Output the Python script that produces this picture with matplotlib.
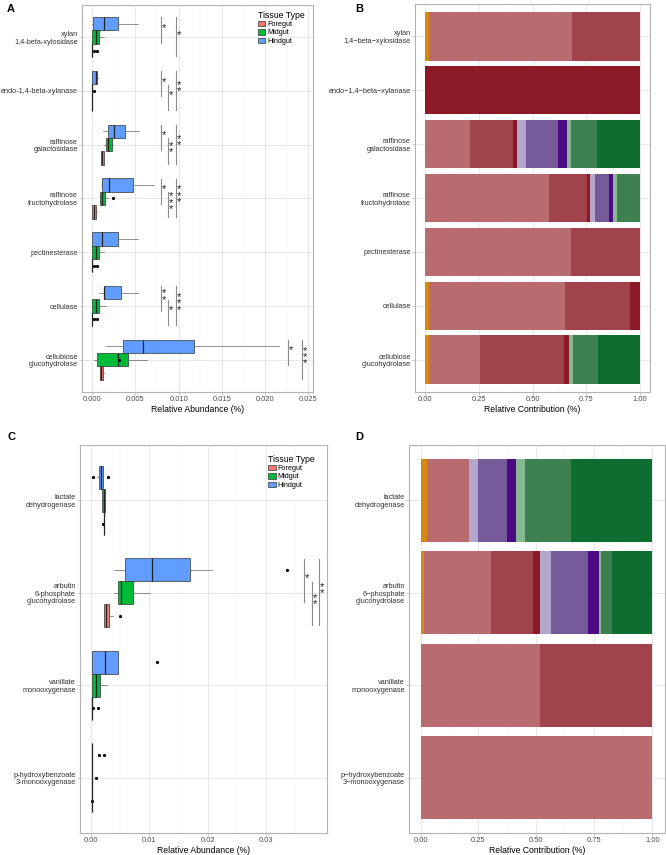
import matplotlib
matplotlib.use("Agg")
import matplotlib.pyplot as plt
from matplotlib.patches import Patch
import numpy as np

plt.rcParams["font.family"] = ["Liberation Sans", "DejaVu Sans"]

tissues = ["Hindgut", "Midgut", "Foregut"]
tissue_offsets = {"Hindgut": -0.25, "Midgut": 0.0, "Foregut": 0.25}
tissue_colors = {"Foregut": "#F8766D", "Midgut": "#00BA38", "Hindgut": "#619CFF"}

# ---- panel A: boxplot stats [whislo, q1, med, q3, whishi]
enzymes_a = ["xylan\n1,4-beta-xylosidase", "endo-1,4-beta-xylanase",
             "raffinose\ngalactosidase", "raffinose\nfructohydrolase",
             "pectinesterase", "cellulase", "cellubiose\nglucohydrolase"]
a_hind = [[0.0, 0.0001, 0.0013, 0.0030, 0.0053],
          [0.0, 0.0, 0.0004, 0.00054, 0.00066],
          [0.0012, 0.00185, 0.00247, 0.00374, 0.00544],
          [0.00096, 0.00116, 0.00193, 0.00467, 0.00714],
          [0.0, 0.0, 0.00108, 0.00293, 0.00532],
          [0.00073, 0.00131, 0.00139, 0.00328, 0.00532],
          [0.00158, 0.00359, 0.0059, 0.01173, 0.02157]]
a_mid = [[0.0, 0.0, 0.00042, 0.00077, 0.0013],
         [0.0, 0.0, 0.0, 0.0, 0.0],
         [0.0013, 0.00154, 0.00185, 0.00228, 0.0024],
         [0.0009, 0.00093, 0.00112, 0.0015, 0.00185],
         [0.0, 0.0, 0.0004, 0.00077, 0.00135],
         [0.0, 0.0, 0.00042, 0.00077, 0.0016],
         [0.0002, 0.00054, 0.0030, 0.00417, 0.00633]]
a_fore = [[0.0, 0.0, 0.0, 0.0, 0.0],
          [0.0, 0.0, 0.0, 0.0, 0.0],
          [0.00096, 0.00096, 0.0011, 0.0013, 0.00135],
          [0.0, 0.0, 0.0002, 0.0004, 0.0006],
          [0.0, 0.0, 0.0, 0.0, 0.0],
          [0.0, 0.0, 0.0, 0.0, 0.0],
          [0.00089, 0.00089, 0.00104, 0.0012, 0.0014]]
a_hind_out = [[], [], [], [], [], [], []]
a_mid_out = [[], [0.00015], [], [0.0024], [], [], [0.0031]]
a_fore_out = [[0.00023, 0.0005], [], [], [], [0.00023, 0.0005], [0.00023, 0.0005], []]
# significance: (enzyme index, group 1, group 2, x position, label)
a_sig = [(0, "Hindgut", "Midgut", 0.0080, "*"), (0, "Hindgut", "Foregut", 0.0097, "*"),
         (1, "Hindgut", "Midgut", 0.0080, "*"), (1, "Midgut", "Foregut", 0.0088, "*"),
         (1, "Hindgut", "Foregut", 0.0097, "**"),
         (2, "Hindgut", "Midgut", 0.0080, "*"), (2, "Midgut", "Foregut", 0.0088, "**"),
         (2, "Hindgut", "Foregut", 0.0097, "**"),
         (3, "Hindgut", "Midgut", 0.0080, "*"), (3, "Midgut", "Foregut", 0.0088, "***"),
         (3, "Hindgut", "Foregut", 0.0097, "***"),
         (5, "Hindgut", "Midgut", 0.0080, "**"), (5, "Midgut", "Foregut", 0.0088, "*"),
         (5, "Hindgut", "Foregut", 0.0097, "***"),
         (6, "Hindgut", "Midgut", 0.0227, "*"), (6, "Hindgut", "Foregut", 0.0243, "***")]

# ---- panel C
enzymes_c = ["lactate\ndehydrogenase", "arbutin\n6-phosphate\nglucohydrolase",
             "vanillate\nmonooxygenase", "p-hydroxybenzoate\n3-monooxygenase"]
c_hind = [[0.0010, 0.00138, 0.0017, 0.00207, 0.0021],
          [0.00397, 0.00586, 0.01046, 0.01701, 0.02075],
          [0.0001, 0.0001, 0.00247, 0.00454, 0.0047],
          [0.0001, 0.0001, 0.0001, 0.0001, 0.0001]]
c_mid = [[0.0019, 0.0019, 0.00218, 0.00247, 0.00247],
         [0.00397, 0.00454, 0.00517, 0.00724, 0.01017],
         [0.0001, 0.0001, 0.0008, 0.00155, 0.0028],
         [0.0001, 0.0001, 0.0001, 0.0001, 0.0001]]
c_fore = [[0.00224, 0.00224, 0.00224, 0.00224, 0.00224],
          [0.0023, 0.0023, 0.0026, 0.00305, 0.00385],
          [0.0001, 0.0001, 0.0001, 0.0001, 0.0001],
          [0.0001, 0.0001, 0.0001, 0.0001, 0.0001]]
c_hind_out = [[0.0003, 0.0029], [0.0336], [0.01126], [0.0014, 0.0023]]
c_mid_out = [[], [], [], [0.0008]]
c_fore_out = [[0.0020], [0.0050], [0.0004, 0.00115], [0.0001]]
c_sig = [(1, "Hindgut", "Midgut", 0.0366, "*"), (1, "Midgut", "Foregut", 0.0379, "**"),
         (1, "Hindgut", "Foregut", 0.0392, "**")]

# ---- panels B and D: relative contribution per taxon
taxon_colors = ["#D68910", "#B86C70", "#A0434A", "#8B1A26", "#B4A7CC",
                "#745A99", "#4B0A82", "#86B892", "#3E8050", "#0E6E30"]
enzymes_b = ["xylan\n1,4\u2212beta\u2212xylosidase", "endo\u22121,4\u2212beta\u2212xylanase",
             "raffinose\ngalactosidase", "raffinose\nfructohydrolase",
             "pectinesterase", "cellulase", "cellubiose\nglucohydrolase"]
b_shares = [[0.016, 0.667, 0.317, 0, 0, 0, 0, 0, 0, 0],
            [0, 0, 0, 1.0, 0, 0, 0, 0, 0, 0],
            [0, 0.21, 0.20, 0.016, 0.045, 0.148, 0.043, 0.019, 0.118, 0.201],
            [0, 0.576, 0.179, 0.012, 0.025, 0.065, 0.017, 0.020, 0.106, 0],
            [0, 0.68, 0.32, 0, 0, 0, 0, 0, 0, 0],
            [0.017, 0.634, 0.301, 0.048, 0, 0, 0, 0, 0, 0],
            [0.016, 0.238, 0.391, 0.023, 0, 0, 0, 0.020, 0.115, 0.197]]
enzymes_d = ["lactate\ndehydrogenase", "arbutin\n6\u2212phosphate\nglucohydrolase",
             "vanillate\nmonooxygenase", "p\u2212hydroxybenzoate\n3\u2212monooxygenase"]
d_shares = [[0.026, 0.182, 0, 0, 0.040, 0.126, 0.037, 0.040, 0.198, 0.351],
            [0.016, 0.289, 0.181, 0.029, 0.047, 0.161, 0.045, 0.010, 0.047, 0.175],
            [0, 0.517, 0.483, 0, 0, 0, 0, 0, 0, 0],
            [0, 1.0, 0, 0, 0, 0, 0, 0, 0, 0]]

TICK_FS = 5.3
TITLE_FS = 6.2


def style_axis(ax, xlim, xticks, fmt, minor, ncat, labels, xlabel):
    ax.set_xlim(*xlim)
    ax.set_ylim(ncat - 0.4, -0.6)
    ax.set_xticks(xticks)
    ax.set_xticklabels([fmt % v for v in xticks], fontsize=5.4, color="#4D4D4D")
    ax.set_xticks(minor, minor=True)
    ax.set_yticks(np.arange(ncat))
    ax.set_yticklabels(labels, fontsize=TICK_FS, color="#333333", linespacing=1.1)
    ax.tick_params(axis="both", which="major", length=2, width=0.5, color="#B3B3B3", pad=1.0)
    ax.tick_params(axis="x", which="minor", length=0)
    ax.grid(True, which="major", color="#DEDEDE", lw=0.5)
    ax.grid(True, which="minor", axis="x", color="#EDEDED", lw=0.3)
    ax.set_axisbelow(True)
    for s in ax.spines.values():
        s.set_color("#B3B3B3")
        s.set_linewidth(0.8)
    ax.set_xlabel(xlabel, fontsize=TITLE_FS, labelpad=1.5)


def draw_boxes(ax, series, outliers):
    for t in tissues:
        stats = []
        for s, fl in zip(series[t], outliers[t]):
            stats.append(dict(whislo=s[0], q1=s[1], med=s[2], q3=s[3], whishi=s[4], fliers=fl))
        pos = np.arange(len(stats)) + tissue_offsets[t]
        ax.bxp(stats, positions=pos, widths=0.25, orientation="horizontal",
               patch_artist=True, showcaps=False, manage_ticks=False,
               boxprops=dict(facecolor=tissue_colors[t], edgecolor="#333333", lw=0.5),
               medianprops=dict(color="#222222", lw=0.9),
               whiskerprops=dict(color="#666666", lw=0.5),
               flierprops=dict(marker="o", markersize=1.3, markerfacecolor="black",
                               markeredgecolor="black"))


def draw_sig(ax, sig):
    # stars stacked one per line, like the rotated ggplot labels
    for i, g1, g2, x, label in sig:
        y0 = i + tissue_offsets[g1] - 0.12
        y1 = i + tissue_offsets[g2] + 0.1
        ax.plot([x, x], [y0, y1], color="#8A8A8A", lw=0.8)
        ax.annotate("\n".join(label), xy=(x, (y0 + y1) / 2), xytext=(0.5, 1.5),
                    textcoords="offset points", ha="left", va="center",
                    fontsize=8, linespacing=0.55, color="#222222")


def draw_stack(ax, shares):
    left = np.zeros(len(shares))
    vals = np.array(shares)
    for j, col in enumerate(taxon_colors):
        ax.barh(np.arange(len(shares)), vals[:, j], left=left, height=0.9,
                color=col, lw=0, zorder=3)
        left += vals[:, j]


fig = plt.figure(figsize=(6.66, 8.55), dpi=100)

axA = fig.add_axes([0.1231, 0.5415, 0.3468, 0.4527])
style_axis(axA, (-0.00119, 0.02554), np.arange(0, 0.0251, 0.005), "%.3f",
           np.arange(0.0025, 0.0251, 0.005), len(enzymes_a), enzymes_a, "Relative Abundance (%)")
draw_boxes(axA, {"Hindgut": a_hind, "Midgut": a_mid, "Foregut": a_fore},
           {"Hindgut": a_hind_out, "Midgut": a_mid_out, "Foregut": a_fore_out})
draw_sig(axA, a_sig)

axB = fig.add_axes([0.6231, 0.5415, 0.3529, 0.4538])
style_axis(axB, (-0.048, 1.047), [0, 0.25, 0.5, 0.75, 1.0], "%.2f",
           [0.125, 0.375, 0.625, 0.875], len(enzymes_b), enzymes_b, "Relative Contribution (%)")
draw_stack(axB, b_shares)

axC = fig.add_axes([0.1201, 0.0257, 0.3709, 0.4538])
style_axis(axC, (-0.0019, 0.0405), [0, 0.01, 0.02, 0.03], "%.2f",
           [0.005, 0.015, 0.025, 0.035], len(enzymes_c), enzymes_c, "Relative Abundance (%)")
draw_boxes(axC, {"Hindgut": c_hind, "Midgut": c_mid, "Foregut": c_fore},
           {"Hindgut": c_hind_out, "Midgut": c_mid_out, "Foregut": c_fore_out})
draw_sig(axC, c_sig)

axD = fig.add_axes([0.6141, 0.0257, 0.3844, 0.4538])
style_axis(axD, (-0.05, 1.055), [0, 0.25, 0.5, 0.75, 1.0], "%.2f",
           [0.125, 0.375, 0.625, 0.875], len(enzymes_d), enzymes_d, "Relative Contribution (%)")
draw_stack(axD, d_shares)

handles = [Patch(facecolor=tissue_colors[t], edgecolor="#333333", lw=0.5)
           for t in ["Foregut", "Midgut", "Hindgut"]]
for ax, anchor in [(axA, (0.76, 0.985)), (axC, (0.76, 0.975))]:
    leg = ax.legend(handles, ["Foregut", "Midgut", "Hindgut"], title="Tissue Type",
                    loc="upper left", bbox_to_anchor=anchor, frameon=False,
                    fontsize=5.2, title_fontsize=6.3, handlelength=1.1, handleheight=0.8,
                    handletextpad=0.3, labelspacing=0.15, borderpad=0, borderaxespad=0)
    leg._legend_box.align = "left"

for letter, x, y in [("A", 7, 4), ("B", 355, 4), ("C", 7, 432), ("D", 355, 432)]:
    fig.text(x / 666, 1 - y / 855, letter, ha="left", va="top", fontsize=8, fontweight="bold")

fig.savefig("out.png", dpi=100)
